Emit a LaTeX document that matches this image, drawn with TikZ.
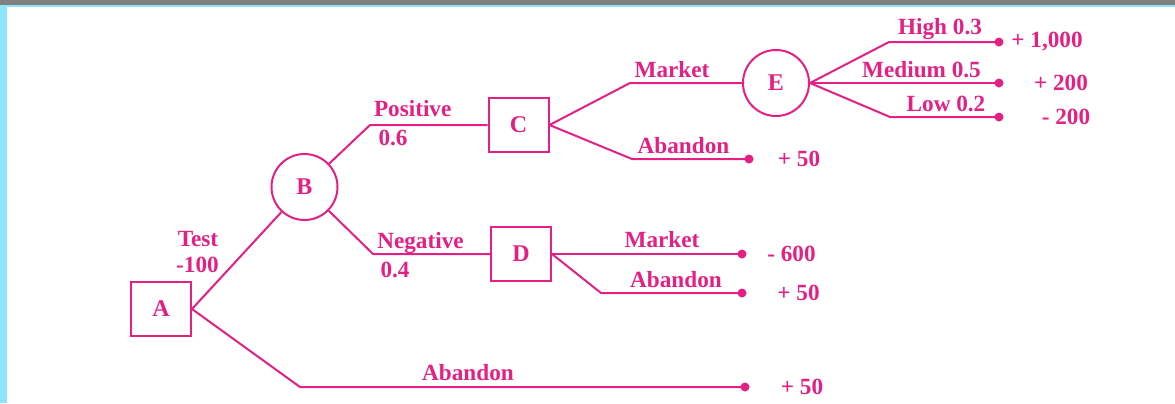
\documentclass[tikz,border=0pt]{standalone}
\usepackage{fontspec}
\setmainfont{Liberation Serif}
\usetikzlibrary{positioning}
\definecolor{rose}{RGB}{228,32,132}
\definecolor{barblue}{RGB}{142,228,255}
\definecolor{bargray}{RGB}{128,128,128}
\tikzset{
  decision/.style={rectangle,draw=rose,line width=1pt,minimum width=30pt,minimum height=27pt,text=rose,font=\fontsize{12}{14}\selectfont\bfseries},
  chance/.style={circle,draw=rose,line width=1pt,minimum size=33pt,inner sep=0pt,text=rose,font=\fontsize{12}{14}\selectfont\bfseries},
  leaf/.style={circle,fill=rose,inner sep=0pt,minimum size=4.5pt},
  branch/.style={text=rose,inner sep=0pt,anchor=base,font=\fontsize{11.6}{13}\selectfont\bfseries},
  pay/.style={text=rose,inner sep=0pt,font=\fontsize{11.6}{13}\selectfont\bfseries},
  line/.style={draw=rose,line width=1pt},
}
\begin{document}
\begin{tikzpicture}[x=0.5pt,y=-0.5pt]
    \useasboundingbox (0,0) rectangle (1175,403);
    \fill[bargray] (0,0) rectangle (1175,5);
    \fill[barblue] (0,5) rectangle (1175,6.5);
    \fill[barblue] (0,5) rectangle (7,403);

    \node[decision] (A) at (161,309) {A};
    \node[chance] (B) at (304.5,187) {B};
    \node[decision] (C) at (518.5,125) {C};
    \node[decision] (D) at (521,254) {D};
    \node[chance] (E) at (776,83) {E};

    \coordinate (pos) at (370,125);
    \coordinate (neg) at (373,254);
    \coordinate (ab0) at (300,387);
    \coordinate (mkC) at (630,83);
    \coordinate (abC) at (632,159);
    \coordinate (hi) at (889,42);
    \coordinate (lo) at (890,117);
    \coordinate (abD) at (601,293);

    \node[leaf] (dH) at (999,42) {};
    \node[leaf] (dM) at (999,83) {};
    \node[leaf] (dL) at (999,117) {};
    \node[leaf] (dC) at (749,159) {};
    \node[leaf] (dDm) at (742,254) {};
    \node[leaf] (dDa) at (742,293) {};
    \node[leaf] (d0) at (745,387) {};

    \node[pay,right of=dH,node distance=24pt] (vH) {+ 1,000};
    \node[pay,right of=dM,node distance=31pt] (vM) {+ 200};
    \node[pay,right of=dL,node distance=33.5pt] (vL) {- 200};
    \node[pay,right of=dC,node distance=25pt] (vC) {+ 50};
    \node[pay,right of=dDm,node distance=24.75pt] (vDm) {- 600};
    \node[pay,right of=dDa,node distance=28.25pt] (vDa) {+ 50};
    \node[pay,right of=d0,node distance=28.5pt] (v0) {+ 50};

    \node[branch] (test) at (198,246) {Test};
    \node[branch] (cost) at (197.5,272) {-100};
    \node[branch] (lpos) at (412.7,116) {Positive};
    \node[branch] (ppos) at (393,145) {0.6};
    \node[branch] (lneg) at (420.5,248) {Negative};
    \node[branch] (pneg) at (395,277) {0.4};
    \node[branch] (lmkC) at (672,77) {Market};
    \node[branch] (labC) at (683.5,153) {Abandon};
    \node[branch] (lhi) at (940,34) {High 0.3};
    \node[branch] (lmd) at (921.5,77) {Medium 0.5};
    \node[branch] (llo) at (946,111) {Low 0.2};
    \node[branch] (lmkD) at (662,247) {Market};
    \node[branch] (labD) at (676,287) {Abandon};
    \node[branch] (lab0) at (468,380) {Abandon};

    \begin{scope} [every path/.style=line]
      \path (A.east) -- (B);
      \path (A.east) -- (ab0) -- (d0.center);
      \path (B) -- (pos) -- (C);
      \path (B) -- (neg) -- (D);
      \path (C.east) -- (mkC) -- (E);
      \path (C.east) -- (abC) -- (dC.center);
      \path (D.east) -- (dDm.center);
      \path (D.east) -- (abD) -- (dDa.center);
      \path (E.east) -- (hi) -- (dH.center);
      \path (E.east) -- (dM.center);
      \path (E.east) -- (lo) -- (dL.center);
    \end{scope}
\end{tikzpicture}
\end{document}
